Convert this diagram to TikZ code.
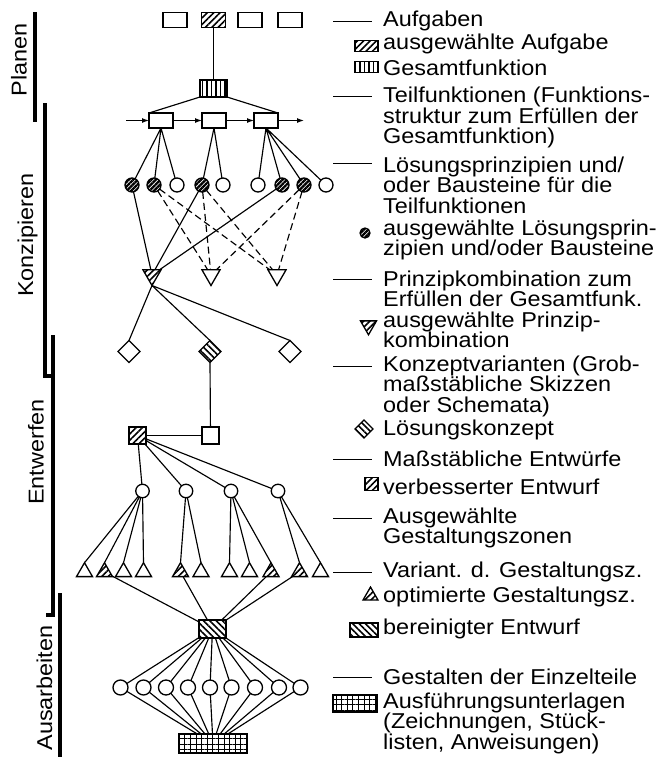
\documentclass[tikz,border=0pt]{standalone}
\usepackage{fontspec}
\setmainfont{Liberation Sans}[FakeStretch=1.09]
\usetikzlibrary{arrows.meta,shapes.geometric,patterns.meta}

\begin{document}
\begin{tikzpicture}[x=1pt, y=-1pt,
    rand/.style={draw, line width=1.3pt, inner sep=0pt, outer sep=0pt},
    feld/.style={rand, rectangle, minimum width=24pt, minimum height=15pt},
    kreis/.style={rand, circle, minimum size=14pt},
    ab/.style={rand, regular polygon, regular polygon sides=3, shape border rotate=180, minimum size=21pt},
    auf/.style={rand, regular polygon, regular polygon sides=3, minimum size=18.5pt},
    raute/.style={rand, diamond, minimum width=22pt, minimum height=22pt},
    quadrat/.style={rand, rectangle, minimum size=17pt},
    schraeg/.style={pattern={Lines[angle=45, distance=4.5pt, line width=1.6pt]}},
    senkrecht/.style={pattern={Lines[angle=90, distance=4.5pt, line width=1.7pt]}},
    dunkel/.style={pattern={Lines[angle=45, distance=3.2pt, line width=2.3pt]}},
    gegen/.style={pattern={Lines[angle=-45, distance=4.5pt, line width=1.6pt]}},
    gitter/.style={pattern={Hatch[angle=0, distance=5.6pt, line width=1pt]}},
    linie/.style={line width=1.15pt},
    gestrichelt/.style={linie, dash pattern=on 7pt off 4pt},
    pfeil/.style={linie, -{Latex[length=7pt, width=5pt]}},
    balken/.style={line width=3.5pt},
    phase/.style={rotate=90, inner sep=0pt, font=\fontsize{21.5pt}{20.5pt}\selectfont},
    txt/.style={anchor=west, align=left, inner sep=0pt, font=\fontsize{21.5pt}{20.5pt}\selectfont},
    strich/.style={line width=0.9pt}
]
\useasboundingbox (0,0) rectangle (668,761);

% Phasen links
\node[phase] (planen) at (19,60) {Planen};
\node[phase] (konz) at (27.5,235) {Konzipieren};
\node[phase] (entw) at (36,452) {Entwerfen};
\node[phase] (ausarb) at (44.5,688) {Ausarbeiten};
\draw[balken] (35,12) -- (35,122);
\draw[balken] (45,103) |- (54,376);
\draw[balken] (53,335) |- (46,615);
\draw[balken] (60,593) -- (60,757);

% Aufgaben und Gesamtfunktion
\node[feld] (a1) at (175,20) {};
\node[feld, schraeg] (a2) at (213.5,20) {};
\node[feld] (a3) at (250,20) {};
\node[feld] (a4) at (290,20) {};
\node[feld, senkrecht, minimum width=27pt, minimum height=17pt] (gf) at (213.5,88.5) {};

% Teilfunktionen
\node[feld] (tf1) at (161,120.5) {};
\node[feld] (tf2) at (214,120.5) {};
\node[feld] (tf3) at (266,120.5) {};
\coordinate (ein) at (126,120.5);
\coordinate (aus) at (304,120.5);

% Loesungsprinzipien
\node[kreis, dunkel] (c1) at (132,185) {};
\node[kreis, dunkel] (c2) at (154,185) {};
\node[kreis] (c3) at (177,185) {};
\node[kreis, dunkel] (c4) at (202,185) {};
\node[kreis] (c5) at (223,185) {};
\node[kreis] (c6) at (258,185) {};
\node[kreis, dunkel] (c7) at (282,185) {};
\node[kreis, dunkel] (c8) at (304,185) {};
\node[kreis] (c9) at (326,185) {};

% Prinzipkombinationen
\node[ab, schraeg] (k1) at (152,275) {};
\node[ab] (k2) at (211,275) {};
\node[ab] (k3) at (277,275) {};

% Konzeptvarianten
\node[raute] (v1) at (129,351.5) {};
\node[raute, gegen] (v2) at (210,351.5) {};
\node[raute] (v3) at (290,351.5) {};

% Entwuerfe
\node[quadrat, schraeg] (q1) at (137.5,435.5) {};
\node[quadrat] (q2) at (210.5,435.5) {};

% Gestaltungszonen
\node[kreis, minimum size=13.5pt] (z1) at (142.5,491) {};
\node[kreis, minimum size=13.5pt] (z2) at (186,491) {};
\node[kreis, minimum size=13.5pt] (z3) at (231,491) {};
\node[kreis, minimum size=13.5pt] (z4) at (278,491) {};

% Varianten der Gestaltungszonen
\node[auf] (g1) at (84.5,572) {};
\node[auf, schraeg] (g2) at (104.5,572) {};
\node[auf] (g3) at (123.5,572) {};
\node[auf] (g4) at (143.5,572) {};
\node[auf, schraeg] (g5) at (180.5,572) {};
\node[auf] (g6) at (201,572) {};
\node[auf] (g7) at (229.5,572) {};
\node[auf] (g8) at (249.5,572) {};
\node[auf, schraeg] (g9) at (271,572) {};
\node[auf, schraeg] (g10) at (299.5,572) {};
\node[auf] (g11) at (320.5,572) {};

% bereinigter Entwurf, Einzelteile, Unterlagen
\node[feld, gegen, minimum width=27pt, minimum height=18pt] (b) at (212.5,629) {};
\node[kreis, minimum size=15pt] (f1) at (120.5,687.5) {};
\node[kreis, minimum size=15pt] (f2) at (143.5,687.5) {};
\node[kreis, minimum size=15pt] (f3) at (166,687.5) {};
\node[kreis, minimum size=15pt] (f4) at (188,687.5) {};
\node[kreis, minimum size=15pt] (f5) at (210,687.5) {};
\node[kreis, minimum size=15pt] (f6) at (231.5,687.5) {};
\node[kreis, minimum size=15pt] (f7) at (255,687.5) {};
\node[kreis, minimum size=15pt] (f8) at (279,687.5) {};
\node[kreis, minimum size=15pt] (f9) at (300.5,687.5) {};
\node[feld, gitter, minimum width=68pt, minimum height=19pt] (r) at (213,743.5) {};

% Verbindungen
\draw[linie] (a2) -- (gf);
\draw[linie] (gf.south west) -- (tf1.north west) (gf.south east) -- (tf3.north east);
\draw[pfeil] (ein) -- (tf1);
\draw[pfeil] (tf1) -- (tf2);
\draw[pfeil] (tf2) -- (tf3);
\draw[pfeil] (tf3) -- (aus);
\draw[linie] (tf1.south) -- (c1) (tf1.south) -- (c2) (tf1.south) -- (c3);
\draw[linie] (tf2.south) -- (c4) (tf2.south) -- (c5);
\draw[linie] (tf3.south) -- (c6) (tf3.south) -- (c7) (tf3.south) -- (c8) (tf3.south) -- (c9);
\draw[linie] (c1) -- (k1) (c4) -- (k1) (c7) -- (k1);
\draw[gestrichelt] (c2) -- (k2) (c2) -- (k3) (c4) -- (k2) (c4) -- (k3) (c8) -- (k2) (c8) -- (k3);
\draw[linie] (k1.corner 1) -- (v1.north) (k1.corner 1) -- (v2.north) (k1.corner 1) -- (v3.north);
\draw[linie] (v2.south) -- (q2);
\draw[linie] (q1) -- (q2);
\draw[linie] (q1) -- (z1) (q1) -- (z2) (q1) -- (z3) (q1) -- (z4);
\draw[linie] (z1) -- (g1.corner 1) (z1) -- (g2.corner 1) (z1) -- (g3.corner 1) (z1) -- (g4.corner 1);
\draw[linie] (z2) -- (g5.corner 1) (z2) -- (g6.corner 1);
\draw[linie] (z3) -- (g7.corner 1) (z3) -- (g8.corner 1) (z3) -- (g9.corner 1);
\draw[linie] (z4) -- (g10.corner 1) (z4) -- (g11.corner 1);
\draw[linie] (g2) -- (b) (g5) -- (b) (g9) -- (b) (g10) -- (b);
\draw[linie] (b) -- (f1) (b) -- (f2) (b) -- (f3) (b) -- (f4) (b) -- (f5)
  (b) -- (f6) (b) -- (f7) (b) -- (f8) (b) -- (f9);
\draw[linie] (f1) -- (r) (f2) -- (r) (f3) -- (r) (f4) -- (r) (f5) -- (r)
  (f6) -- (r) (f7) -- (r) (f8) -- (r) (f9) -- (r);

% Legende
\node[txt] (l1) at (383,21) {Aufgaben};
\node[txt] (l2) at (383,44) {ausgewählte Aufgabe};
\node[txt] (l3) at (383,68) {Gesamtfunktion};
\node[txt] (l4) at (383,117.5) {Teilfunktionen (Funktions-\\struktur zum Erfüllen der\\Gesamtfunktion)};
\node[txt] (l5) at (383,185) {Lösungsprinzipien und/\\oder Bausteine für die\\Teilfunktionen};
\node[txt] (l6) at (383,240) {ausgewählte Lösungsprin-\\zipien und/oder Bausteine};
\node[txt] (l7) at (383,289) {Prinzipkombination zum\\Erfüllen der Gesamtfunk.};
\node[txt] (l8) at (383,330) {ausgewählte Prinzip-\\kombination};
\node[txt] (l9) at (383,386) {Konzeptvarianten (Grob-\\maßstäbliche Skizzen\\oder Schemata)};
\node[txt] (l10) at (383,430) {Lösungskonzept};
\node[txt] (l11) at (383,459) {Maßstäbliche Entwürfe};
\node[txt] (l12) at (383,487) {verbesserter Entwurf};
\node[txt] (l13) at (383,528) {Ausgewählte\\Gestaltungszonen};
\node[txt] (l14) at (383,572) {Variant. d. Gestaltungsz.};
\node[txt] (l15) at (383,597) {optimierte Gestaltungsz.};
\node[txt] (l16) at (383,629) {bereinigter Entwurf};
\node[txt] (l17) at (383,677) {Gestalten der Einzelteile};
\node[txt] (l18) at (383,723) {Ausführungsunterlagen\\(Zeichnungen, Stück-\\listen, Anweisungen)};

\draw[strich] (333,21) -- (372,21);
\draw[strich] (333,96) -- (372,96);
\draw[strich] (333,163) -- (372,163);
\draw[strich] (333,279) -- (372,279);
\draw[strich] (333,366) -- (372,366);
\draw[strich] (333,459) -- (372,459);
\draw[strich] (333,518) -- (372,518);
\draw[strich] (333,572) -- (372,572);
\draw[strich] (333,677) -- (372,677);

\node[rand, schraeg, minimum width=23pt, minimum height=11pt] (i2) at (366.5,46) {};
\node[rand, senkrecht, minimum width=23pt, minimum height=11pt] (i3) at (366.5,67) {};
\node[kreis, dunkel, minimum size=10pt] (i6) at (365,233) {};
\node[ab, schraeg, minimum size=18.5pt] (i8) at (368.5,325.5) {};
\node[raute, gegen, minimum width=18pt, minimum height=18pt] (i10) at (364,429) {};
\node[quadrat, schraeg, minimum size=13pt] (i12) at (371.5,484) {};
\node[auf, schraeg, minimum size=17.3pt] (i15) at (370.5,595.7) {};
\node[rand, gegen, minimum width=28pt, minimum height=14pt] (i16) at (364,630) {};
\node[rand, gitter, minimum width=44pt, minimum height=17pt] (i18) at (355,703.5) {};
\end{tikzpicture}
\end{document}
